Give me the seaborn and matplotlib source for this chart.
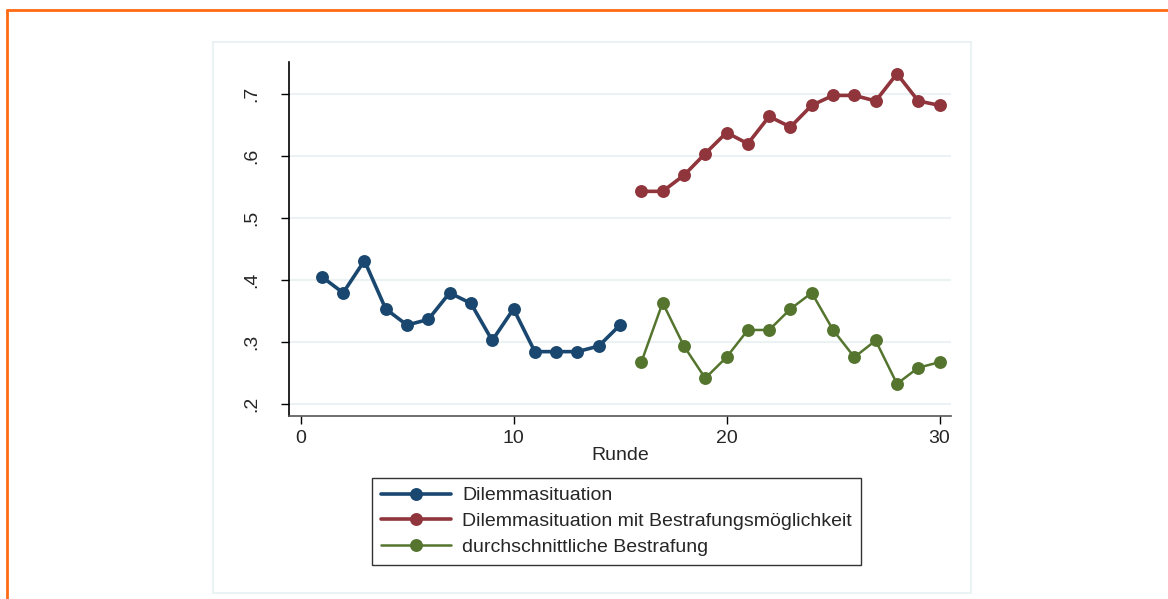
import matplotlib
matplotlib.use("Agg")
import matplotlib.pyplot as plt
from matplotlib.lines import Line2D
from matplotlib.patches import Rectangle
import seaborn as sns
import numpy as np
import pandas as pd

# Werte
runde_a = list(range(1, 16))
runde_b = list(range(16, 31))
dilemma = [0.405, 0.379, 0.431, 0.353, 0.327, 0.336, 0.379, 0.362, 0.302, 0.353,
           0.284, 0.284, 0.284, 0.293, 0.327]
dilemma_strafe = [0.543, 0.543, 0.569, 0.604, 0.638, 0.620, 0.664, 0.647, 0.682, 0.698,
                  0.698, 0.689, 0.733, 0.689, 0.682]
bestrafung = [0.267, 0.363, 0.293, 0.241, 0.275, 0.319, 0.319, 0.353, 0.379, 0.319,
              0.275, 0.302, 0.232, 0.258, 0.267]
labels = ["Dilemmasituation", "Dilemmasituation mit Bestrafungsmöglichkeit",
          "durchschnittliche Bestrafung"]
colors = ["#1A476F", "#90353B", "#55752F"]
widths = [2.6, 2.6, 1.8]
y_ticks = [0.2, 0.3, 0.4, 0.5, 0.6, 0.7]
y_ticklabels = [".2", ".3", ".4", ".5", ".6", ".7"]
x_ticks = [0, 10, 20, 30]

df = pd.concat([
    pd.DataFrame({"Runde": runde_a, "Wert": dilemma, "Serie": labels[0]}),
    pd.DataFrame({"Runde": runde_b, "Wert": dilemma_strafe, "Serie": labels[1]}),
    pd.DataFrame({"Runde": runde_b, "Wert": bestrafung, "Serie": labels[2]}),
])

sns.set_style("white")
plt.rcParams["font.family"] = ["Liberation Sans", "DejaVu Sans"]
fs = 14
ms = 9.3

fig = plt.figure(figsize=(11.68, 5.99), dpi=100)

# aeusserer Rahmen (orange) und Grafikbereich (hellgrau)
fig.add_artist(Line2D([7/1168, 1], [1 - 10/599, 1 - 10/599], color="#FF6A13", lw=2))
fig.add_artist(Line2D([7/1168, 7/1168], [0, 1 - 10/599], color="#FF6A13", lw=2))
fig.add_artist(Rectangle((213/1168, 1 - 593/599), (971 - 213)/1168, (593 - 42)/599,
                         facecolor="white", edgecolor="#EAF2F3", lw=1.5, zorder=0))

ax = fig.add_axes([289/1168, 1 - 416/599, (951.5 - 289)/1168, (416 - 62)/599])
ax.set_facecolor("none")

for lab, col, lw in zip(labels, colors, widths):
    sns.lineplot(data=df[df["Serie"] == lab], x="Runde", y="Wert", ax=ax,
                 color=col, lw=lw, marker="o", markersize=ms,
                 markeredgewidth=0, label=lab, legend=False)

ax.set_xlim(-0.54, 30.56)
ax.set_ylim(0.18, 0.752)
ax.set_yticks(y_ticks)
ax.set_yticklabels(y_ticklabels)
ax.set_xticks(x_ticks)
ax.yaxis.grid(True, color="#EAF2F3", lw=1.5)
ax.set_axisbelow(True)

for s in ["top", "right"]:
    ax.spines[s].set_visible(False)
ax.spines["left"].set_color("black")
ax.spines["bottom"].set_color("#555555")
ax.spines["left"].set_linewidth(1.2)
ax.spines["bottom"].set_linewidth(1.2)

ax.tick_params(axis="y", length=6, width=1, color="black", labelsize=fs,
               labelrotation=90, pad=15, left=True)
ax.tick_params(axis="x", length=6, width=1, color="black", labelsize=fs,
               pad=4, bottom=True)
for t in ax.get_yticklabels():
    t.set_va("center")

ax.set_ylabel("")
ax.set_xlabel("Runde", fontsize=fs, labelpad=0)

handles = [Line2D([], [], color=c, lw=w, marker="o", markersize=ms, markeredgewidth=0)
           for c, w in zip(colors, widths)]
leg = fig.legend(handles, labels, loc="upper left",
                 bbox_to_anchor=(372/1168, 1 - 478/599), fontsize=fs,
                 frameon=True, fancybox=False, edgecolor="black",
                 handlelength=3.6, handletextpad=0.6, borderpad=0.45,
                 labelspacing=0.42, borderaxespad=0)
leg.get_frame().set_linewidth(1.0)

fig.savefig("out.png", dpi=100)
